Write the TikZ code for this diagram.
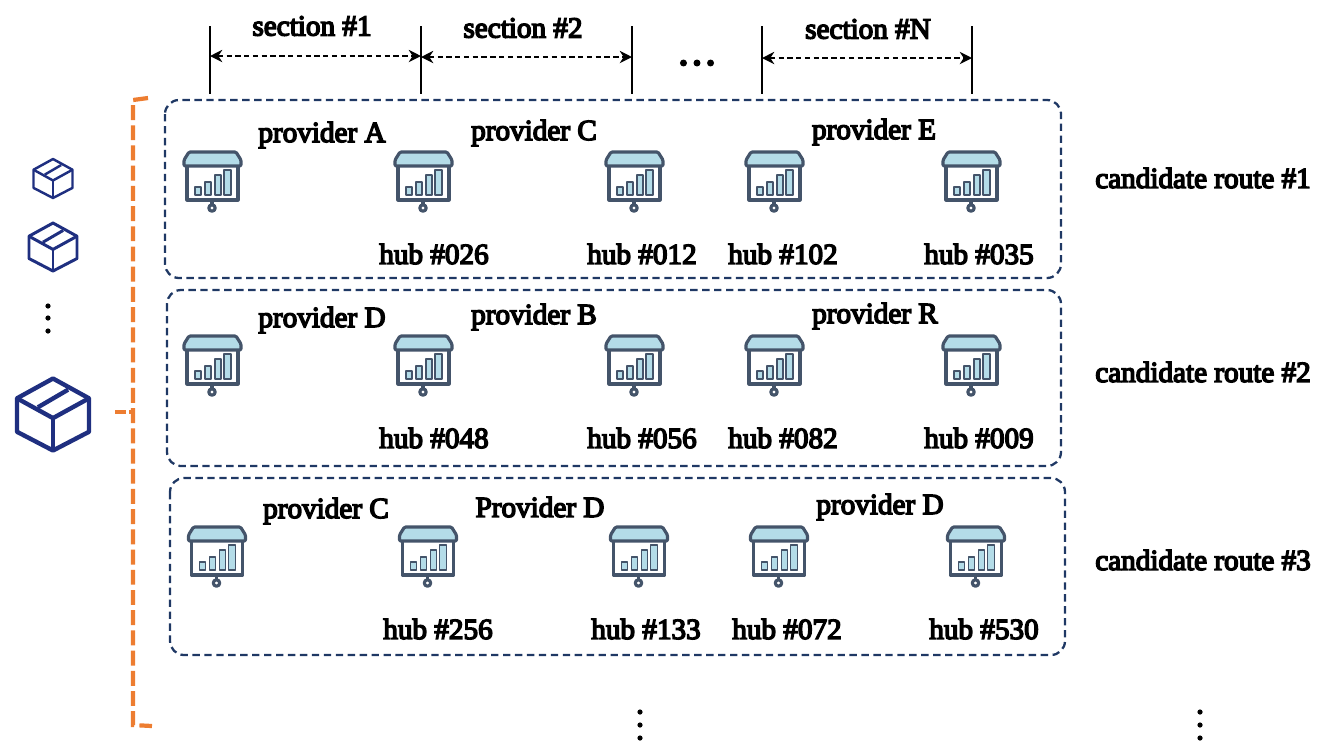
\documentclass[tikz,border=0pt]{standalone}
\usepackage{fontspec}
\setmainfont{Liberation Serif}
\newfontfamily\lblfont[FakeBold=5]{Liberation Serif}
\usetikzlibrary{arrows.meta}
\definecolor{routeblue}{HTML}{1F3864}
\definecolor{boxblue}{HTML}{1F2F80}
\definecolor{bracketorange}{HTML}{ED7D31}
\definecolor{hubgrey}{HTML}{44546A}
\definecolor{hublight}{HTML}{B4DCE8}
\tikzset{
    lbl/.style={font=\lblfont\fontsize{16.6}{18}\selectfont, inner sep=0pt},
    routebox/.style={draw=routeblue, line width=1.3pt, dash pattern=on 4.2pt off 2.6pt, rounded corners=8pt},
    hubline/.style={draw=hubgrey, line width=1.8pt, line join=round},
    secline/.style={black, line width=1.4pt},
    secarrow/.style={black, line width=0.9pt, dash pattern=on 3pt off 2pt, {Stealth[length=7pt,width=7pt]}-{Stealth[length=7pt,width=7pt]}},
    bracket/.style={draw=bracketorange, line width=2.4pt, dash pattern=on 8.5pt off 3pt},
    hub/.pic={
        % Pantalla
        \draw[hubline, fill=white] (-25,-13) -- (-25,20) -- (26,20) -- (26,-13);
        % Toldo
        \draw[hubline, fill=hublight, rounded corners=0.7pt] (-28,-14) -- (-28,-20) -- (-23,-28) -- (24,-28) -- (29,-20) -- (29,-14) -- cycle;
        % Barras
        \draw[hubline, line width=1pt, fill=hublight] (-17,15) rectangle (-11,7);
        \draw[hubline, line width=1pt, fill=hublight] (-7,15) rectangle (-1,2);
        \draw[hubline, line width=1pt, fill=hublight] (3,15) rectangle (9,-5);
        \draw[hubline, line width=1pt, fill=hublight] (12,15) rectangle (19,-10);
        % Pie
        \draw[hubline] (0,20) -- (0,25);
        \draw[hubline, fill=white] (0,28) circle (3.2);
    },
    parcel/.pic={
        \begin{scope}[scale=#1]
        \draw[boxblue, line join=round] (0,-1) -- (1,-0.45) -- (1,0.48) -- (0,1) -- (-1,0.48) -- (-1,-0.45) -- cycle;
        \draw[boxblue, line join=round] (-1,-0.45) -- (0,0.1) -- (1,-0.45);
        \draw[boxblue] (0,0.1) -- (0,1);
        \draw[boxblue] (-0.42,-0.2) -- (0.42,-0.69);
        \end{scope}
    },
}
\begin{document}
\begin{tikzpicture}[x=0.02cm, y=-0.02cm]
    \useasboundingbox (0,0) rectangle (1331,752);

    % Secciones
    \foreach \n/\x in {a/210, b/421, c/632, d/762, e/972} {
        \coordinate (top\n) at (\x,26);
        \coordinate (bot\n) at (\x,94);
        \draw[secline] (top\n) -- (bot\n);
    }
    \coordinate (s1l) at (210,56);
    \coordinate (s1r) at (421,56);
    \coordinate (s2l) at (421,57);
    \coordinate (s2r) at (632,57);
    \coordinate (sNl) at (762,58);
    \coordinate (sNr) at (972,58);
    \draw[secarrow] (s1l) -- (s1r);
    \draw[secarrow] (s2l) -- (s2r);
    \draw[secarrow] (sNl) -- (sNr);
    \node[lbl] (sec1) at (312,26) {section \#1};
    \node[lbl] (sec2) at (523,28) {section \#2};
    \node[lbl] (secN) at (868,29) {section \#N};
    \node[lbl, font=\lblfont\fontsize{23}{24}\selectfont] (secdots) at (697,63) {…};

    % Rutas candidatas
    \draw[routebox] (165,100) rectangle (1061,278);
    \draw[routebox] (167,290) rectangle (1061,466);
    \draw[routebox] (170,478) rectangle (1065,655);
    \node[lbl] (route1) at (1203,178) {candidate route \#1};
    \node[lbl] (route2) at (1203,372) {candidate route \#2};
    \node[lbl] (route3) at (1203,560) {candidate route \#3};

    % Hubs
    \foreach \y/\dx in {180/0, 364/0, 555/4.5} {
        \foreach \x in {212, 423, 634, 774, 971} {
            \pic at (\x+\dx,\y) {hub};
        }
    }

    % Ruta 1
    \node[lbl] (p1a) at (322,135) {provider A};
    \node[lbl] (p1b) at (534,133) {provider C};
    \node[lbl] (p1c) at (874,132) {provider E};
    \node[lbl] (h1a) at (434,254) {hub \#026};
    \node[lbl] (h1b) at (642,254) {hub \#012};
    \node[lbl] (h1c) at (783,254) {hub \#102};
    \node[lbl] (h1d) at (979,254) {hub \#035};

    % Ruta 2
    \node[lbl] (p2a) at (322,320) {provider D};
    \node[lbl] (p2b) at (534,317) {provider B};
    \node[lbl] (p2c) at (875,316) {provider R};
    \node[lbl] (h2a) at (434,438) {hub \#048};
    \node[lbl] (h2b) at (642,438) {hub \#056};
    \node[lbl] (h2c) at (783,438) {hub \#082};
    \node[lbl] (h2d) at (979,438) {hub \#009};

    % Ruta 3
    \node[lbl] (p3a) at (326,511) {provider C};
    \node[lbl] (p3b) at (540,507) {Provider D};
    \node[lbl] (p3c) at (880,507) {provider D};
    \node[lbl] (h3a) at (438,629) {hub \#256};
    \node[lbl] (h3b) at (646,629) {hub \#133};
    \node[lbl] (h3c) at (787,629) {hub \#072};
    \node[lbl] (h3d) at (984,629) {hub \#530};

    % Puntos suspensivos
    \foreach \x/\y in {48/306, 48/318, 48/331, 640/712, 640/725, 640/738, 1200/712, 1200/725, 1200/738} {
        \fill (\x,\y) circle (2.6);
    }

    % Paquetes
    \pic[line width=1.4pt] at (53,178.5) {parcel=19.5};
    \pic[line width=1.7pt] at (53,247) {parcel=24};
    \pic[line width=2.5pt] at (53,414.5) {parcel=36};

    % Corchete
    \coordinate (brTop) at (148,98);
    \coordinate (brTopIn) at (133,100);
    \coordinate (brBot) at (133,725);
    \coordinate (brEnd) at (152,726);
    \coordinate (brMid) at (133,412);
    \coordinate (brTip) at (115,412);
    \draw[bracket] (brTop) -- (brTopIn) -- (brBot) -- (brEnd);
    \draw[bracket, dash pattern=on 6pt off 2pt] (brTip) -- (brMid);
\end{tikzpicture}
\end{document}
